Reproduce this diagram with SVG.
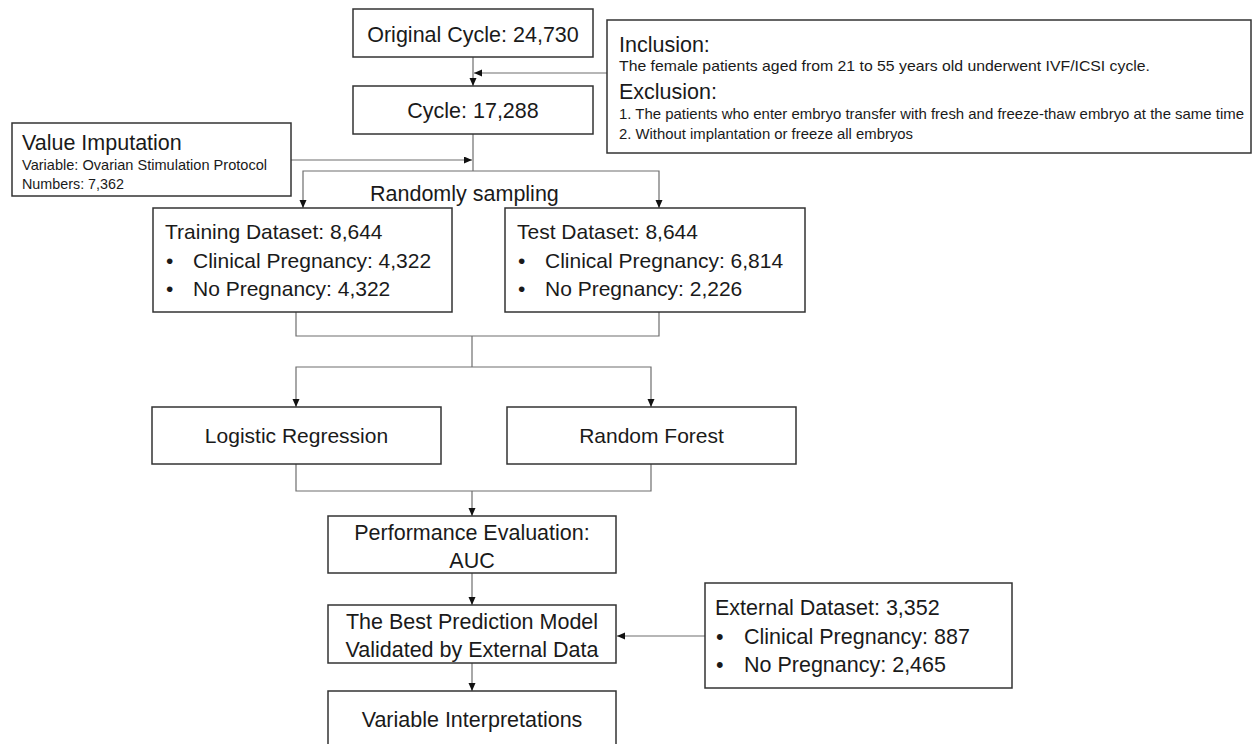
<svg xmlns="http://www.w3.org/2000/svg" width="1256" height="744" viewBox="0 0 1256 744">
<style>
.box{fill:#fff;stroke:#333;stroke-width:1.5}
.t{font-family:"Liberation Sans",Arial,sans-serif;fill:#1a1a1a}
.L{font-size:21.5px}
.M{font-size:21px}
.S{font-size:14.5px}
.c{text-anchor:middle}
.con{fill:none;stroke:#6e6e6e;stroke-width:1.2}
</style>
<defs>
<marker id="ah" markerUnits="userSpaceOnUse" markerWidth="9" markerHeight="8" refX="8" refY="3.5" orient="auto">
<path d="M0,0 L8,3.5 L0,7 z" fill="#111"/>
</marker>
</defs>
<rect width="1256" height="744" fill="#fff"/>

<g id="connectors">
<path class="con" d="M473,57 V86" marker-end="url(#ah)"/>
<path class="con" d="M607,73 H474" marker-end="url(#ah)"/>
<path class="con" d="M473,134 V171"/>
<path class="con" d="M291,160 H472" marker-end="url(#ah)"/>
<path class="con" d="M473,171 H303 V208" marker-end="url(#ah)"/>
<path class="con" d="M473,171 H659 V208" marker-end="url(#ah)"/>
<path class="con" d="M296,312 V336 H659 V312"/>
<path class="con" d="M472,336 V367"/>
<path class="con" d="M472,367 H296 V407" marker-end="url(#ah)"/>
<path class="con" d="M472,367 H651 V407" marker-end="url(#ah)"/>
<path class="con" d="M296,464 V491 H651 V464"/>
<path class="con" d="M472,491 V516" marker-end="url(#ah)"/>
<path class="con" d="M472,573 V605" marker-end="url(#ah)"/>
<path class="con" d="M472,663 V691" marker-end="url(#ah)"/>
<path class="con" d="M705,636 H617" marker-end="url(#ah)"/>
</g>

<g id="original">
<rect class="box" x="353" y="9" width="240" height="48"/>
<text class="t L c" x="473" y="41.5">Original Cycle: 24,730</text>
</g>

<g id="criteria">
<rect class="box" x="607" y="20" width="644" height="133"/>
<text class="t L" x="619" y="51.5">Inclusion:</text>
<text class="t S" x="619" y="71" textLength="531" lengthAdjust="spacingAndGlyphs">The female patients aged from 21 to 55 years old underwent IVF/ICSI cycle.</text>
<text class="t L" x="619" y="98.5">Exclusion:</text>
<text class="t S" x="619" y="118.5" textLength="625" lengthAdjust="spacingAndGlyphs">1. The patients who enter embryo transfer with fresh and freeze-thaw embryo at the same time</text>
<text class="t S" x="619" y="138.5" textLength="294" lengthAdjust="spacingAndGlyphs">2. Without implantation or freeze all embryos</text>
</g>

<g id="cycle">
<rect class="box" x="353" y="86" width="240" height="48"/>
<text class="t L c" x="473" y="117.5">Cycle: 17,288</text>
</g>

<g id="imputation">
<rect class="box" x="12" y="123" width="279" height="73"/>
<text class="t L" x="22" y="149.5">Value Imputation</text>
<text class="t S" x="22" y="170" textLength="245" lengthAdjust="spacingAndGlyphs">Variable: Ovarian Stimulation Protocol</text>
<text class="t S" x="22" y="189" textLength="102" lengthAdjust="spacingAndGlyphs">Numbers: 7,362</text>
</g>

<g id="sampling-label">
<text class="t L" x="370" y="201">Randomly sampling</text>
</g>

<g id="training">
<rect class="box" x="153" y="208" width="299" height="104"/>
<text class="t M" x="165" y="238.5">Training Dataset: 8,644</text>
<text class="t M" x="166" y="267.5">•</text>
<text class="t M" x="193" y="267.5">Clinical Pregnancy: 4,322</text>
<text class="t M" x="166" y="296">•</text>
<text class="t M" x="193" y="296">No Pregnancy: 4,322</text>
</g>

<g id="test">
<rect class="box" x="505" y="208" width="300" height="104"/>
<text class="t M" x="517" y="238.5">Test Dataset: 8,644</text>
<text class="t M" x="518" y="267.5">•</text>
<text class="t M" x="545" y="267.5">Clinical Pregnancy: 6,814</text>
<text class="t M" x="518" y="296">•</text>
<text class="t M" x="545" y="296">No Pregnancy: 2,226</text>
</g>

<g id="logistic">
<rect class="box" x="152" y="407" width="289" height="57"/>
<text class="t M c" x="296.5" y="443">Logistic Regression</text>
</g>

<g id="forest">
<rect class="box" x="507" y="407" width="289" height="57"/>
<text class="t M c" x="651.5" y="443">Random Forest</text>
</g>

<g id="performance">
<rect class="box" x="328" y="516" width="288" height="57"/>
<text class="t L c" x="472" y="539.5">Performance Evaluation:</text>
<text class="t L c" x="472" y="568">AUC</text>
</g>

<g id="best">
<rect class="box" x="328" y="605" width="288" height="58"/>
<text class="t L c" x="472" y="628.5">The Best Prediction Model</text>
<text class="t L c" x="472" y="656.5">Validated by External Data</text>
</g>

<g id="external">
<rect class="box" x="705" y="583" width="307" height="105"/>
<text class="t L" x="715" y="615">External Dataset: 3,352</text>
<text class="t L" x="716" y="643.5">•</text>
<text class="t L" x="744" y="643.5">Clinical Pregnancy: 887</text>
<text class="t L" x="716" y="672">•</text>
<text class="t L" x="744" y="672">No Pregnancy: 2,465</text>
</g>

<g id="interpretation">
<rect class="box" x="328" y="691" width="288" height="60"/>
<text class="t L c" x="472" y="727">Variable Interpretations</text>
</g>
</svg>
